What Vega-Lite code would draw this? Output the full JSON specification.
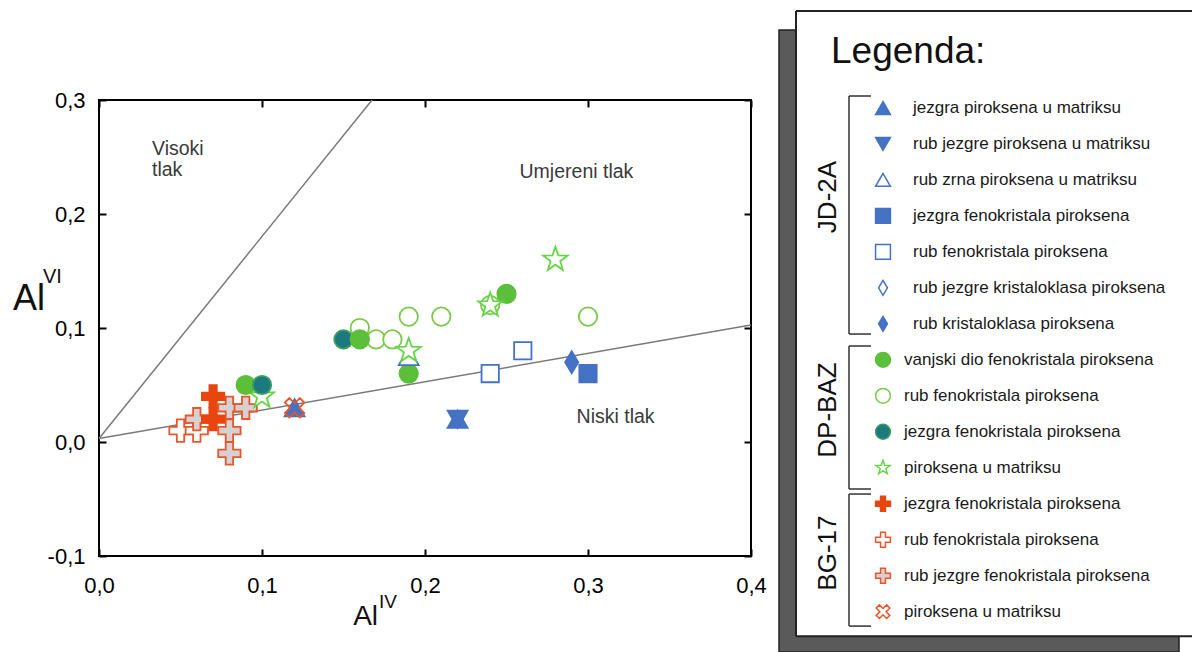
{
  "$schema": "https://vega.github.io/schema/vega-lite/v6.json",
  "background": "white",
  "padding": {"left": 12, "top": 10, "right": 0, "bottom": 0},
  "config": {
    "font": "Liberation Sans",
    "concat": {"spacing": 10},
    "axis": {"grid": false}
  },
  "datasets": {
    "lines": [
      {"line": "steep", "alIV": 0, "alVI": 0.003},
      {"line": "steep", "alIV": 0.1675, "alVI": 0.3},
      {"line": "low", "alIV": 0, "alVI": 0.003},
      {"line": "low", "alIV": 0.4, "alVI": 0.1026}
    ],
    "points": [
      {"sample": "BG-17", "type": "B2", "alIV": 0.05, "alVI": 0.01},
      {"sample": "BG-17", "type": "B2", "alIV": 0.06, "alVI": 0.01},
      {"sample": "BG-17", "type": "B3", "alIV": 0.06, "alVI": 0.02},
      {"sample": "BG-17", "type": "B3", "alIV": 0.08, "alVI": 0.03},
      {"sample": "BG-17", "type": "B3", "alIV": 0.09, "alVI": 0.03},
      {"sample": "BG-17", "type": "B3", "alIV": 0.08, "alVI": 0.01},
      {"sample": "BG-17", "type": "B3", "alIV": 0.08, "alVI": -0.01},
      {"sample": "BG-17", "type": "B1", "alIV": 0.07, "alVI": 0.04},
      {"sample": "BG-17", "type": "B1", "alIV": 0.07, "alVI": 0.02},
      {"sample": "JD-2A", "type": "J1", "alIV": 0.12, "alVI": 0.03},
      {"sample": "JD-2A", "type": "J1", "alIV": 0.22, "alVI": 0.02},
      {"sample": "JD-2A", "type": "J2", "alIV": 0.22, "alVI": 0.02},
      {"sample": "BG-17", "type": "B4", "alIV": 0.12, "alVI": 0.03},
      {"sample": "DP-BAZ", "type": "D4", "alIV": 0.10, "alVI": 0.04},
      {"sample": "DP-BAZ", "type": "D1", "alIV": 0.09, "alVI": 0.05},
      {"sample": "DP-BAZ", "type": "D3", "alIV": 0.10, "alVI": 0.05},
      {"sample": "DP-BAZ", "type": "D2", "alIV": 0.16, "alVI": 0.10},
      {"sample": "DP-BAZ", "type": "D2", "alIV": 0.17, "alVI": 0.09},
      {"sample": "DP-BAZ", "type": "D2", "alIV": 0.18, "alVI": 0.09},
      {"sample": "DP-BAZ", "type": "D2", "alIV": 0.19, "alVI": 0.11},
      {"sample": "DP-BAZ", "type": "D2", "alIV": 0.21, "alVI": 0.11},
      {"sample": "DP-BAZ", "type": "D2", "alIV": 0.24, "alVI": 0.12},
      {"sample": "DP-BAZ", "type": "D2", "alIV": 0.30, "alVI": 0.11},
      {"sample": "DP-BAZ", "type": "D3", "alIV": 0.15, "alVI": 0.09},
      {"sample": "DP-BAZ", "type": "D1", "alIV": 0.16, "alVI": 0.09},
      {"sample": "DP-BAZ", "type": "D1", "alIV": 0.19, "alVI": 0.06},
      {"sample": "DP-BAZ", "type": "D1", "alIV": 0.25, "alVI": 0.13},
      {"sample": "JD-2A", "type": "J3", "alIV": 0.19, "alVI": 0.075},
      {"sample": "DP-BAZ", "type": "D4", "alIV": 0.19, "alVI": 0.08},
      {"sample": "DP-BAZ", "type": "D4", "alIV": 0.24, "alVI": 0.12},
      {"sample": "DP-BAZ", "type": "D4", "alIV": 0.28, "alVI": 0.16},
      {"sample": "JD-2A", "type": "J5", "alIV": 0.24, "alVI": 0.06},
      {"sample": "JD-2A", "type": "J5", "alIV": 0.26, "alVI": 0.08},
      {"sample": "JD-2A", "type": "J7", "alIV": 0.29, "alVI": 0.07},
      {"sample": "JD-2A", "type": "J4", "alIV": 0.30, "alVI": 0.06}
    ],
    "zones": [
      {"label": "Visoki", "alIV": 0.0325, "alVI": 0.257},
      {"label": "tlak", "alIV": 0.0325, "alVI": 0.239},
      {"label": "Umjereni tlak", "alIV": 0.258, "alVI": 0.237},
      {"label": "Niski tlak", "alIV": 0.293, "alVI": 0.022}
    ],
    "items": [
      {"order": 1, "group": "JD-2A", "type": "J1", "label": "jezgra piroksena u matriksu"},
      {"order": 2, "group": "JD-2A", "type": "J2", "label": "rub jezgre piroksena u matriksu"},
      {"order": 3, "group": "JD-2A", "type": "J3", "label": "rub zrna piroksena u matriksu"},
      {"order": 4, "group": "JD-2A", "type": "J4", "label": "jezgra fenokristala piroksena"},
      {"order": 5, "group": "JD-2A", "type": "J5", "label": "rub fenokristala piroksena"},
      {"order": 6, "group": "JD-2A", "type": "J6", "label": "rub jezgre kristaloklasa piroksena"},
      {"order": 7, "group": "JD-2A", "type": "J7", "label": "rub kristaloklasa piroksena"},
      {"order": 8, "group": "DP-BAZ", "type": "D1", "label": "vanjski dio fenokristala piroksena"},
      {"order": 9, "group": "DP-BAZ", "type": "D2", "label": "rub fenokristala piroksena"},
      {"order": 10, "group": "DP-BAZ", "type": "D3", "label": "jezgra fenokristala piroksena"},
      {"order": 11, "group": "DP-BAZ", "type": "D4", "label": "piroksena u matriksu"},
      {"order": 12, "group": "BG-17", "type": "B1", "label": "jezgra fenokristala piroksena"},
      {"order": 13, "group": "BG-17", "type": "B2", "label": "rub fenokristala piroksena"},
      {"order": 14, "group": "BG-17", "type": "B3", "label": "rub jezgre fenokristala piroksena"},
      {"order": 15, "group": "BG-17", "type": "B4", "label": "piroksena u matriksu"}
    ],
    "groups": [
      {"group": "JD-2A", "top": 0.668, "bottom": 7.283, "mid": 3.475},
      {"group": "DP-BAZ", "top": 7.616, "bottom": 11.59, "mid": 9.395},
      {"group": "BG-17", "top": 11.73, "bottom": 15.4, "mid": 13.37}
    ]
  },
  "hconcat": [
    {
      "width": 652,
      "height": 456,
      "view": {"stroke": "black", "strokeWidth": 2},
      "resolve": {"axis": {"x": "independent", "y": "independent"}},
      "layer": [
        {
          "data": {"name": "lines"},
          "mark": {"type": "line", "color": "#7a7a7a", "strokeWidth": 1.5},
          "encoding": {
            "x": {"field": "alIV", "type": "quantitative",
              "scale": {"domain": [0, 0.4], "nice": false, "zero": false},
              "axis": {"orient": "bottom", "values": [0, 0.1, 0.2, 0.3, 0.4], "tickSize": -7, "tickWidth": 2, "tickColor": "black", "domain": false, "labelFlush": false, "labelFontSize": 22, "labelColor": "black", "labelPadding": 26, "title": null,
                "labelExpr": "replace(replace(format(datum.value, '.1f'), '.', ','), '\u2212', '-')"}},
            "y": {"field": "alVI", "type": "quantitative",
              "scale": {"domain": [-0.1, 0.3], "nice": false, "zero": false},
              "axis": {"orient": "left", "values": [-0.1, 0, 0.1, 0.2, 0.3], "tickSize": -7, "tickWidth": 2, "tickColor": "black", "domain": false, "labelFontSize": 22, "labelColor": "black", "labelPadding": 21, "title": null,
                "labelExpr": "replace(replace(format(datum.value, '.1f'), '.', ','), '\u2212', '-')"}},
            "detail": {"field": "line", "type": "nominal"}
          }
        },
        {
          "data": {"name": "lines"},
          "mark": {"type": "point", "opacity": 0},
          "encoding": {
            "x": {"field": "alIV", "type": "quantitative",
              "scale": {"domain": [0, 0.4], "nice": false, "zero": false},
              "axis": {"orient": "top", "values": [0, 0.1, 0.2, 0.3, 0.4], "tickSize": -7, "tickWidth": 2, "tickColor": "black", "domain": false, "labels": false, "title": null}},
            "y": {"field": "alVI", "type": "quantitative",
              "scale": {"domain": [-0.1, 0.3], "nice": false, "zero": false},
              "axis": {"orient": "right", "values": [-0.1, 0, 0.1, 0.2, 0.3], "tickSize": -7, "tickWidth": 2, "tickColor": "black", "domain": false, "labels": false, "title": null}}
          }
        },
        {
          "data": {"name": "zones"},
          "mark": {"type": "text", "align": "left", "baseline": "middle", "fontSize": 19.5, "color": "#3a3a3a"},
          "encoding": {
            "x": {"field": "alIV", "type": "quantitative", "axis": null},
            "y": {"field": "alVI", "type": "quantitative", "axis": null},
            "text": {"field": "label"}
          }
        },
        {
          "data": {"values": [{}]},
          "mark": {"type": "text", "align": "right", "baseline": "alphabetic", "fontSize": 36, "color": "#111"},
          "encoding": {
            "x": {"datum": -0.0331, "type": "quantitative", "axis": null},
            "y": {"datum": 0.1158, "type": "quantitative", "axis": null},
            "text": {"value": "Al"}
          }
        },
        {
          "data": {"values": [{}]},
          "mark": {"type": "text", "align": "left", "baseline": "alphabetic", "fontSize": 20, "color": "#111"},
          "encoding": {
            "x": {"datum": -0.0344, "type": "quantitative", "axis": null},
            "y": {"datum": 0.1395, "type": "quantitative", "axis": null},
            "text": {"value": "VI"}
          }
        },
        {
          "data": {"values": [{}]},
          "mark": {"type": "text", "align": "right", "baseline": "alphabetic", "fontSize": 28, "color": "#111"},
          "encoding": {
            "x": {"datum": 0.1712, "type": "quantitative", "axis": null},
            "y": {"datum": -0.1605, "type": "quantitative", "axis": null},
            "text": {"value": "Al"}
          }
        },
        {
          "data": {"values": [{}]},
          "mark": {"type": "text", "align": "left", "baseline": "alphabetic", "fontSize": 19, "color": "#111"},
          "encoding": {
            "x": {"datum": 0.1718, "type": "quantitative", "axis": null},
            "y": {"datum": -0.1456, "type": "quantitative", "axis": null},
            "text": {"value": "IV"}
          }
        },
        {
          "data": {"name": "points"},
          "mark": {"type": "point", "opacity": 1, "strokeWidth": 1.8},
          "encoding": {
            "x": {"field": "alIV", "type": "quantitative", "axis": null},
            "y": {"field": "alVI", "type": "quantitative", "axis": null},
            "shape": {"field": "type", "type": "nominal", "legend": null,
              "scale": {"domain": ["J1","J2","J3","J4","J5","J6","J7","D1","D2","D3","D4","B1","B2","B3","B4"],
                "range": ["triangle-up","triangle-down","triangle-up","square","square","M0,-1L0.6,0L0,1L-0.6,0Z","M0,-1L0.6,0L0,1L-0.6,0Z","circle","circle","circle",
                  "M0,-1L0.235,-0.324L0.951,-0.309L0.38,0.124L0.588,0.809L0,0.4L-0.588,0.809L-0.38,0.124L-0.951,-0.309L-0.235,-0.324Z",
                  "M-0.33,-1L0.33,-1L0.33,-0.33L1,-0.33L1,0.33L0.33,0.33L0.33,1L-0.33,1L-0.33,0.33L-1,0.33L-1,-0.33L-0.33,-0.33Z",
                  "M-0.33,-1L0.33,-1L0.33,-0.33L1,-0.33L1,0.33L0.33,0.33L0.33,1L-0.33,1L-0.33,0.33L-1,0.33L-1,-0.33L-0.33,-0.33Z",
                  "M-0.33,-1L0.33,-1L0.33,-0.33L1,-0.33L1,0.33L0.33,0.33L0.33,1L-0.33,1L-0.33,0.33L-1,0.33L-1,-0.33L-0.33,-0.33Z",
                  "M0.495,-0.919L0.919,-0.495L0.424,0L0.919,0.495L0.495,0.919L0,0.424L-0.495,0.919L-0.919,0.495L-0.424,0L-0.919,-0.495L-0.495,-0.919L0,-0.424Z"]}},
            "fill": {"field": "type", "type": "nominal", "legend": null,
              "scale": {"type": "ordinal", "domain": ["J1","J2","J3","J4","J5","J6","J7","D1","D2","D3","D4","B1","B2","B3","B4"],
                "range": ["#4472c4","#4472c4","#ffffff","#4472c4","#ffffff","#ffffff","#4472c4","#5cbf3a","#ffffff","#1c7a7e","#ffffff","#e8450f","#ffffff","#d6d0d0","transparent"]}},
            "stroke": {"field": "type", "type": "nominal", "legend": null,
              "scale": {"type": "ordinal", "domain": ["J1","J2","J3","J4","J5","J6","J7","D1","D2","D3","D4","B1","B2","B3","B4"],
                "range": ["#4472c4","#4472c4","#4472c4","#4472c4","#4472c4","#4472c4","#4472c4","#5cbf3a","#7cc84a","#3aa05a","#66d448","#e8450f","#e9562b","#e9562b","#e9562b"]}},
            "size": {"field": "type", "type": "nominal", "legend": null,
              "scale": {"type": "ordinal", "domain": ["J1","J2","J3","J4","J5","J6","J7","D1","D2","D3","D4","B1","B2","B3","B4"],
                "range": [400, 400, 400, 300, 300, 480, 480, 340, 340, 340, 650, 500, 500, 500, 450]}}
          }
        }
      ]
    },
    {
      "width": 414,
      "height": 552,
      "view": {"stroke": null},
      "layer": [
        {
          "data": {"values": [{}]},
          "mark": {"type": "rect", "fill": "#5a5a5a", "stroke": "#222", "strokeWidth": 1.5},
          "encoding": {
            "x": {"datum": 0, "type": "quantitative", "scale": {"domain": [0, 41.4], "nice": false, "zero": false}, "axis": null},
            "x2": {"datum": 40.0},
            "y": {"datum": -1.166, "type": "quantitative", "scale": {"domain": [0.779, 16.12], "nice": false, "zero": false, "reverse": true}, "axis": null},
            "y2": {"datum": 16.12}
          }
        },
        {
          "data": {"values": [{}]},
          "mark": {"type": "rect", "fill": "#ffffff"},
          "encoding": {
            "x": {"datum": 1.7, "type": "quantitative", "axis": null},
            "x2": {"datum": 41.4},
            "y": {"datum": -1.694, "type": "quantitative", "axis": null},
            "y2": {"datum": 15.68}
          }
        },
        {
          "data": {"values": [{}]},
          "mark": {"type": "rule", "color": "#222", "strokeWidth": 2},
          "encoding": {
            "x": {"datum": 1.7, "type": "quantitative", "axis": null},
            "x2": {"datum": 41.4},
            "y": {"datum": -1.694, "type": "quantitative", "axis": null}
          }
        },
        {
          "data": {"values": [{}]},
          "mark": {"type": "rule", "color": "#222", "strokeWidth": 2},
          "encoding": {
            "x": {"datum": 1.7, "type": "quantitative", "axis": null},
            "x2": {"datum": 41.4},
            "y": {"datum": 15.68, "type": "quantitative", "axis": null}
          }
        },
        {
          "data": {"values": [{}]},
          "mark": {"type": "rule", "color": "#222", "strokeWidth": 2},
          "encoding": {
            "x": {"datum": 1.7, "type": "quantitative", "axis": null},
            "y": {"datum": -1.694, "type": "quantitative", "axis": null},
            "y2": {"datum": 15.68}
          }
        },
        {
          "data": {"values": [{}]},
          "mark": {"type": "text", "align": "left", "baseline": "alphabetic", "fontSize": 37, "color": "#111"},
          "encoding": {
            "x": {"datum": 5.2, "type": "quantitative", "axis": null},
            "y": {"datum": -0.249, "type": "quantitative", "axis": null},
            "text": {"value": "Legenda:"}
          }
        },
        {
          "data": {"name": "groups"},
          "mark": {"type": "rule", "color": "#333", "strokeWidth": 1.5},
          "encoding": {
            "x": {"datum": 7.0, "type": "quantitative", "axis": null},
            "y": {"field": "top", "type": "quantitative", "axis": null},
            "y2": {"field": "bottom"}
          }
        },
        {
          "data": {"name": "groups"},
          "mark": {"type": "rule", "color": "#333", "strokeWidth": 1.5},
          "encoding": {
            "x": {"datum": 7.0, "type": "quantitative", "axis": null},
            "x2": {"datum": 9.2},
            "y": {"field": "top", "type": "quantitative", "axis": null}
          }
        },
        {
          "data": {"name": "groups"},
          "mark": {"type": "rule", "color": "#333", "strokeWidth": 1.5},
          "encoding": {
            "x": {"datum": 7.0, "type": "quantitative", "axis": null},
            "x2": {"datum": 9.2},
            "y": {"field": "bottom", "type": "quantitative", "axis": null}
          }
        },
        {
          "data": {"name": "groups"},
          "mark": {"type": "text", "angle": 270, "align": "center", "baseline": "middle", "fontSize": 26, "color": "#111"},
          "encoding": {
            "x": {"datum": 4.9, "type": "quantitative", "axis": null},
            "y": {"field": "mid", "type": "quantitative", "axis": null},
            "text": {"field": "group"}
          }
        },
        {
          "data": {"name": "items"},
          "mark": {"type": "point", "opacity": 1, "strokeWidth": 1.5, "size": 220},
          "encoding": {
            "x": {"datum": 10.4, "type": "quantitative", "axis": null},
            "y": {"field": "order", "type": "quantitative", "axis": null},
            "shape": {"field": "type", "type": "nominal", "legend": null},
            "fill": {"field": "type", "type": "nominal", "legend": null},
            "stroke": {"field": "type", "type": "nominal", "legend": null}
          }
        },
        {
          "data": {"name": "items"},
          "transform": [{"filter": "datum.group === 'JD-2A'"}],
          "mark": {"type": "text", "align": "left", "baseline": "middle", "fontSize": 17, "color": "#1a1a1a"},
          "encoding": {
            "x": {"datum": 13.4, "type": "quantitative", "axis": null},
            "y": {"field": "order", "type": "quantitative", "axis": null},
            "text": {"field": "label"}
          }
        },
        {
          "data": {"name": "items"},
          "transform": [{"filter": "datum.group !== 'JD-2A'"}],
          "mark": {"type": "text", "align": "left", "baseline": "middle", "fontSize": 17, "color": "#1a1a1a"},
          "encoding": {
            "x": {"datum": 12.5, "type": "quantitative", "axis": null},
            "y": {"field": "order", "type": "quantitative", "axis": null},
            "text": {"field": "label"}
          }
        }
      ]
    }
  ]
}
